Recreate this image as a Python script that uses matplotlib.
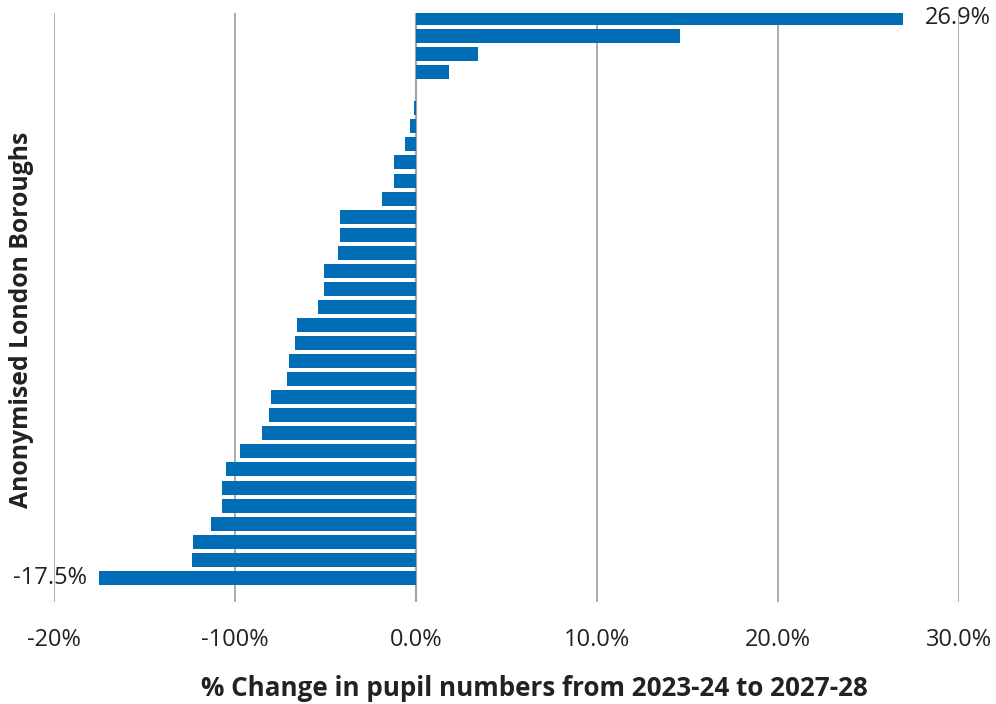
import matplotlib
matplotlib.use("Agg")
import matplotlib.pyplot as plt

# ---- data ----
values = [26.9, 14.6, 3.4, 1.8, 0.0, -0.1, -0.35, -0.6, -1.2, -1.2, -1.9,
          -4.2, -4.2, -4.3, -5.1, -5.1, -5.4, -6.6, -6.7, -7.0, -7.1,
          -8.0, -8.1, -8.5, -9.7, -10.5, -10.7, -10.7, -11.3, -12.3, -12.4, -17.5]
tick_values = [-20, -10, 0, 10, 20, 30]
tick_labels = ["-20%", "-100%", "0.0%", "10.0%", "20.0%", "30.0%"]
data_labels = {0: "26.9%", 31: "-17.5%"}
x_title = "% Change in pupil numbers from 2023-24 to 2027-28"
y_title = "Anonymised London Boroughs"

plt.rcParams['font.family'] = ['Open Sans', 'DejaVu Sans']

W, H = 996, 704
fig = plt.figure(figsize=(W / 100, H / 100), dpi=100)
# axes: x from pixel 54 (-20%) to 959 (30%), y from 13 to 602
ax = fig.add_axes([54 / W, 1 - 602 / H, (959 - 54) / W, (602 - 13) / H])

n = len(values)
pos = list(range(n))
bar_color = '#006DB6'
grid_color = '#A6A6A6'
text_color = '#222222'

ax.barh(pos, values, height=0.775, color=bar_color, zorder=3)

ax.set_xlim(-20, 30)
ax.set_ylim(32.34, -0.277)

for s in ax.spines.values():
    s.set_visible(False)

ax.set_xticks(tick_values)
ax.set_xticklabels(tick_labels)
ax.tick_params(axis='x', length=0, pad=19, labelsize=17, labelcolor=text_color)
ax.set_yticks([])
ax.grid(axis='x', color=grid_color, linewidth=1.3, zorder=0)
ax.axvline(0, color=grid_color, linewidth=1.6, zorder=2)

for i, txt in data_labels.items():
    v = values[i]
    if v >= 0:
        ax.annotate(txt, (v, i), xytext=(16, 0), textcoords='offset points',
                    ha='left', va='center', fontsize=17, color=text_color, zorder=1)
    else:
        ax.annotate(txt, (v, i), xytext=(-9, 0), textcoords='offset points',
                    ha='right', va='center', fontsize=17, color=text_color, zorder=4)

fig.text(534 / W, 1 - 688 / H, x_title, ha='center', va='center',
         fontsize=18.7, fontweight='bold', color=text_color)
fig.text(22 / W, 1 - 320 / H, y_title, ha='center', va='center', rotation=90,
         fontsize=17.8, fontweight='bold', color=text_color)

fig.savefig('out.png', dpi=100)
